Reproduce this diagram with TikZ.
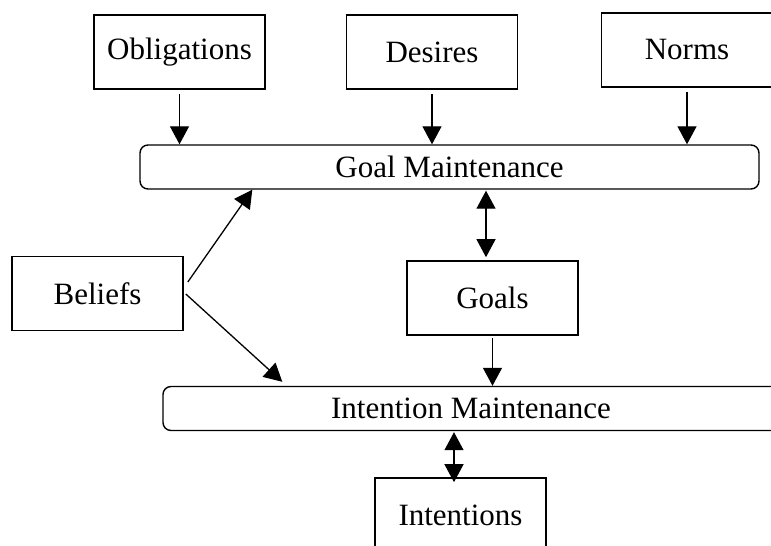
\documentclass[tikz,border=0pt]{standalone}
\usepackage{fontspec}
\setmainfont{Liberation Serif}
\usetikzlibrary{arrows.meta,calc}

\begin{document}
\begin{tikzpicture}[x=1pt, y=-1pt, line width=1.3pt,
    every node/.style={font=\fontsize{31}{37}\selectfont},
    box/.style={draw, line width=1.6pt, minimum width=171pt, minimum height=74pt, inner sep=0pt},
    maint/.style={draw, line width=1.4pt, rounded corners=8pt, minimum height=44pt, inner sep=0pt},
    >={Triangle[length=18pt,width=19pt]}]
    \useasboundingbox (0,0) rectangle (771,546);
    \clip (0,0) rectangle (771,546);
    \path (179.5,  52) node [box] (obligations) {Obligations};
    \path (432,    52) node [box] (desires) {Desires};
    \path (687,    50) node [box] (norms) {Norms};
    \path (449.5, 167) node [maint, minimum width=619pt] (goalmaint) {Goal Maintenance};
    \draw [->, shorten <=4pt] (obligations.south) -- (obligations.south |- goalmaint.north);
    \draw [->, shorten <=4pt] (desires.south) -- (desires.south |- goalmaint.north);
    \draw [->, shorten <=4pt] (norms.south) -- (norms.south |- goalmaint.north);
    \path (97.5, 293.5) node [box] (beliefs) {Beliefs};
    \path (492.5,  298) node [box] (goals) {Goals};
    \draw [<->] ($(goalmaint.south)+(36.5,1)$) -- ($(goals.north)+(-6.5,-3)$);
    \path (471, 408.5) node [maint, minimum width=616pt] (intmaint) {Intention Maintenance};
    \draw [->, shorten <=2pt] (goals.south) -- (goals.south |- intmaint.north);
    \draw [->] ($(beliefs.east)+(4,-11.5)$) -- ($(goalmaint.south west)+(113,0)$);
    \draw [->] ($(beliefs.east)+(2,0.5)$) -- ($(intmaint.north west)+(120,-4)$);
    \path (460.5, 515) node [box] (intentions) {Intentions};
    \draw [<->] ($(intmaint.south)+(-17,1)$) -- ($(intentions.north)+(-6.5,5)$);
\end{tikzpicture}
\end{document}
